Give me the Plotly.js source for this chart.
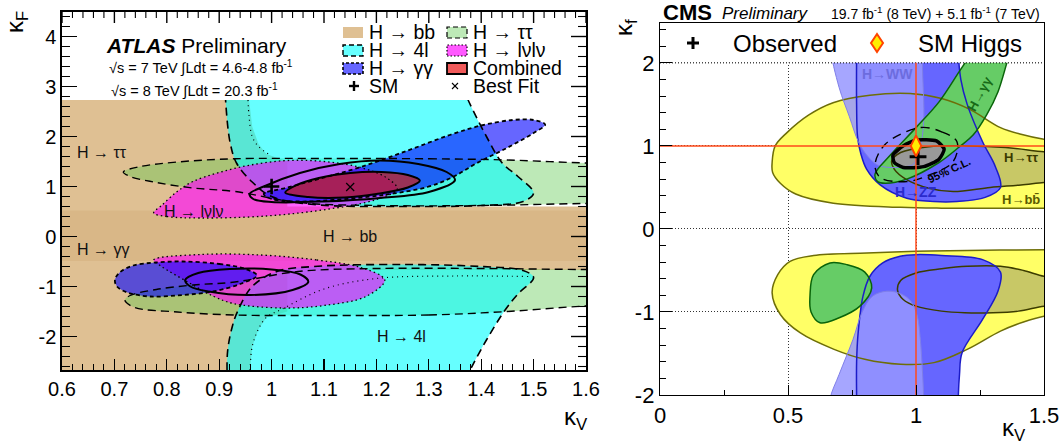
<!DOCTYPE html>
<html><head><meta charset="utf-8">
<script src="https://cdn.plot.ly/plotly-3.0.1.min.js"></script>
<style>html,body{margin:0;padding:0;background:#fff}#chart{width:1063px;height:445px}</style>
</head><body><div id="chart"></div>
<script>
// ================= ATLAS panel: contour regions (kappa_V, kappa_F) =================
const atlasBbOuterX = [0.5, 0.955, 0.957, 0.963, 0.975, 0.99, 1.03, 1.03, 1.7, 1.7, 1.03, 1.03, 0.99, 0.975, 0.963, 0.959, 0.959, 0.5];
const atlasBbOuterY = [3.0, 3.0, 2.73, 2.2, 1.85, 1.65, 1.5, 0.6, 0.6, -0.67, -0.67, -1.5, -1.62, -1.85, -2.2, -2.67, -3.0, -3.0];
const atlasBbInnerX = [0.5, 1.7, 1.7, 0.5];
const atlasBbInnerY = [0.52, 0.52, -0.49, -0.49];

const atlasTauUpX = [1.1, 1.3, 1.45, 1.6, 1.75, 1.75, 1.6, 1.4, 1.2, 1.05, 0.93, 0.85, 0.78, 0.73, 0.717, 0.75, 0.82, 0.93];
const atlasTauUpY = [1.56, 1.555, 1.53, 1.47, 1.44, 0.66, 0.66, 0.62, 0.62, 0.68, 0.9, 0.97, 1.08, 1.2, 1.29, 1.40, 1.49, 1.555];
const atlasTauLoX = [1.1, 1.3, 1.45, 1.6, 1.75, 1.75, 1.6, 1.4, 1.2, 1.05, 0.93, 0.85, 0.78, 0.73, 0.72, 0.736, 0.82, 0.93];
const atlasTauLoY = [-1.58, -1.57, -1.5, -1.39, -1.35, -0.66, -0.66, -0.64, -0.64, -0.7, -0.91, -0.97, -1.06, -1.18, -1.27, -1.41, -1.51, -1.57];

const atlas4lUpX = [1.14, 0.91, 0.911, 0.913, 0.921, 0.933, 0.963, 1.0, 1.08, 1.25, 1.4, 1.48, 1.5, 1.47, 1.44, 1.41, 1.375, 1.36, 1.355];
const atlas4lUpY = [3.6, 3.6, 3.1, 2.6, 1.87, 1.47, 1.09, 0.8, 0.64, 0.6, 0.62, 0.7, 0.87, 1.2, 1.47, 2.0, 2.73, 3.1, 3.6];
const atlas4lLoX = [1.14, 1.355, 1.36, 1.379, 1.41, 1.447, 1.47, 1.5, 1.48, 1.4, 1.25, 1.08, 1.01, 0.963, 0.935, 0.925, 0.916, 0.915, 0.912];
const atlas4lLoY = [-3.6, -3.6, -3.1, -2.67, -2.07, -1.45, -1.15, -0.82, -0.68, -0.6, -0.56, -0.6, -0.7, -1.0, -1.5, -1.8, -2.3, -3.1, -3.6];
const atlas4lInUpX = [0.955, 0.957, 0.963, 0.975, 0.997];
const atlas4lInUpY = [2.73, 2.4, 2.0, 1.8, 1.63];
const atlas4lInLoX = [0.959, 0.963, 0.975, 0.99, 1.02, 1.1, 1.2, 1.35, 1.49];
const atlas4lInLoY = [-2.67, -2.2, -1.85, -1.62, -1.45, -1.05, -0.84, -0.79, -0.8];

const atlasLvUpX = [0.864, 0.8, 0.775, 0.79, 0.82, 0.85, 0.9, 0.96, 1.03, 1.1, 1.17, 1.22, 1.24, 1.2, 1.11, 0.99];
const atlasLvUpY = [0.37, 0.4, 0.47, 0.62, 0.9, 1.1, 1.28, 1.43, 1.52, 1.5, 1.38, 1.17, 0.95, 0.74, 0.55, 0.41];
const atlasLvLoX = [0.98, 1.086, 1.17, 1.216, 1.18, 1.1, 1.02, 0.927, 0.89, 0.84, 0.79, 0.775, 0.864];
const atlasLvLoY = [-0.37, -0.47, -0.62, -0.87, -1.2, -1.38, -1.43, -1.34, -1.2, -0.91, -0.6, -0.47, -0.36];

const atlasGgUpX = [1.297, 1.213, 1.117, 1.054, 1.0, 0.985, 1.03, 1.09, 1.17, 1.26, 1.34, 1.40, 1.46, 1.50, 1.522, 1.50, 1.449, 1.392, 1.346];
const atlasGgUpY = [0.99, 0.83, 0.73, 0.70, 0.75, 0.85, 0.98, 1.15, 1.39, 1.72, 2.03, 2.22, 2.33, 2.33, 2.24, 2.07, 1.77, 1.47, 1.19];
const atlasGgLoX = [0.831, 0.9, 0.95, 0.972, 0.94, 0.888, 0.83, 0.768, 0.725, 0.705, 0.701, 0.71, 0.736, 0.78];
const atlasGgLoY = [-0.5, -0.55, -0.65, -0.78, -0.95, -1.1, -1.17, -1.2, -1.12, -1.0, -0.87, -0.72, -0.58, -0.52];

const atlasCombInX = [1.15, 1.21, 1.26, 1.283, 1.26, 1.2, 1.14, 1.07, 1.026, 1.048, 1.09];
const atlasCombInY = [1.27, 1.29, 1.23, 1.12, 0.98, 0.85, 0.78, 0.79, 0.88, 1.03, 1.17];
const atlasCombOutX = [1.207, 1.28, 1.334, 1.35, 1.3, 1.207, 1.1, 1.0, 0.965, 0.958, 0.985, 1.054, 1.13];
const atlasCombOutY = [1.52, 1.45, 1.29, 1.13, 0.89, 0.77, 0.7, 0.69, 0.75, 0.85, 1.0, 1.27, 1.45];
const atlasCombLoX = [0.92, 1.0, 1.055, 1.07, 1.04, 0.96, 0.88, 0.845, 0.835, 0.86];
const atlasCombLoY = [-0.65, -0.66, -0.76, -0.91, -1.07, -1.17, -1.1, -1.0, -0.87, -0.73];

const atlasSM = {x: [1.0], y: [1.0]};
const atlasBest = {x: [1.15], y: [0.99]};

const atlasXTickVals = [0.6, 0.7, 0.8, 0.9, 1.0, 1.1, 1.2, 1.3, 1.4, 1.5, 1.6];
const atlasXTickText = ['0.6', '0.7', '0.8', '0.9', '1', '1.1', '1.2', '1.3', '1.4', '1.5', '1.6'];
const atlasYTickVals = [-2, -1, 0, 1, 2, 3, 4];
const atlasYTickText = ['-2', '-1', '0', '1', '2', '3', '4'];

// ================= CMS panel: contour regions (kappa_V, kappa_f) =================
const cmsBbUpX = [0.977, 1.1, 1.21, 1.33, 1.41, 1.5, 1.56, 1.56, 1.5, 1.3, 1.1, 0.94, 0.677, 0.53, 0.47, 0.44, 0.438, 0.45, 0.496, 0.58, 0.676, 0.82];
const cmsBbUpY = [1.63, 1.57, 1.44, 1.22, 1.14, 1.08, 1.06, 0.25, 0.25, 0.25, 0.25, 0.26, 0.31, 0.42, 0.55, 0.68, 0.8, 1.0, 1.16, 1.37, 1.52, 1.61];
const cmsBbLoX = [0.808, 1.0, 1.2, 1.5, 1.56, 1.56, 1.5, 1.42, 1.33, 1.2, 1.07, 0.94, 0.8, 0.68, 0.547, 0.47, 0.438, 0.46, 0.508, 0.6];
const cmsBbLoY = [-0.29, -0.27, -0.26, -0.25, -0.25, -1.03, -1.05, -1.12, -1.23, -1.45, -1.61, -1.63, -1.57, -1.45, -1.25, -1.03, -0.77, -0.55, -0.39, -0.32];

const cmsTauUpX = [1.05, 1.2, 1.35, 1.5, 1.56, 1.56, 1.5, 1.41, 1.29, 1.145, 1.05, 0.96, 0.915, 0.905, 0.94];
const cmsTauUpY = [0.99, 1.0, 0.98, 0.93, 0.92, 0.57, 0.56, 0.53, 0.5, 0.45, 0.49, 0.6, 0.72, 0.82, 0.92];
const cmsTauLoX = [1.2, 1.33, 1.42, 1.5, 1.56, 1.56, 1.5, 1.4, 1.3, 1.19, 1.1, 1.0, 0.95, 0.928, 0.94, 1.0, 1.1];
const cmsTauLoY = [-0.45, -0.45, -0.5, -0.57, -0.58, -0.92, -0.93, -0.99, -1.01, -1.01, -0.99, -0.93, -0.85, -0.74, -0.62, -0.53, -0.48];

const cmsZzUpX = [0.768, 0.768, 0.768, 0.772, 0.785, 0.807, 0.86, 0.964, 1.07, 1.16, 1.27, 1.33, 1.31, 1.26, 1.2, 1.175, 1.163, 1.16];
const cmsZzUpY = [2.45, 2.2, 1.5, 1.1, 0.9, 0.72, 0.53, 0.37, 0.33, 0.33, 0.38, 0.5, 0.75, 1.05, 1.5, 1.8, 2.2, 2.45];
const cmsZzLoX = [1.0, 1.1, 1.26, 1.33, 1.32, 1.26, 1.18, 1.17, 1.165, 1.165, 0.768, 0.768, 0.768, 0.774, 0.793, 0.82, 0.87, 0.938];
const cmsZzLoY = [-0.31, -0.32, -0.37, -0.52, -0.75, -1.09, -1.49, -1.75, -2.05, -2.3, -2.3, -2.05, -1.6, -1.25, -0.81, -0.57, -0.41, -0.33];

const cmsWwUpX = [0.664, 0.664, 0.70, 0.74, 0.775, 0.81, 0.85, 0.9, 0.96, 0.99, 1.016, 1.03, 1.025, 1.025];
const cmsWwUpY = [2.45, 2.2, 1.7, 1.35, 1.05, 0.88, 0.77, 0.74, 0.75, 0.78, 0.98, 1.29, 2.0, 2.45];
const cmsWwLoX = [0.886, 0.94, 0.98, 1.005, 1.016, 1.025, 1.03, 1.03, 0.664, 0.664, 0.7, 0.754, 0.79, 0.83];
const cmsWwLoY = [-0.75, -0.78, -0.87, -1.05, -1.3, -1.7, -2.05, -2.3, -2.3, -2.05, -1.75, -1.33, -1.0, -0.81];

const cmsGgUpX = [1.29, 1.235, 1.17, 1.09, 1.0, 0.9, 0.84, 0.85, 0.88, 0.964, 1.09, 1.17, 1.223, 1.277, 1.32, 1.355, 1.375, 1.40];
const cmsGgUpY = [2.45, 2.2, 1.9, 1.53, 1.22, 0.89, 0.66, 0.57, 0.55, 0.6, 0.8, 0.99, 1.13, 1.38, 1.65, 2.0, 2.2, 2.45];
const cmsGgLoX = [0.664, 0.73, 0.8, 0.827, 0.781, 0.7, 0.625, 0.59, 0.586, 0.6];
const cmsGgLoY = [-0.41, -0.43, -0.52, -0.71, -0.93, -1.07, -1.13, -1.0, -0.8, -0.55];

const cmsComb68X = [1.0, 1.08, 1.11, 1.09, 1.03, 0.95, 0.915, 0.91, 0.95];
const cmsComb68Y = [1.07, 1.06, 0.96, 0.84, 0.75, 0.74, 0.8, 0.89, 1.0];
const cmsComb95X = [1.016, 1.1, 1.16, 1.145, 1.06, 0.964, 0.86, 0.84, 0.88];
const cmsComb95Y = [1.22, 1.17, 1.05, 0.81, 0.66, 0.57, 0.62, 0.77, 1.02];

const cmsObserved = {x: [1.008], y: [0.87]};
const cmsSM = {x: [1.0], y: [1.0]};

const cmsXTickVals = [0, 0.5, 1, 1.5];
const cmsXTickText = ['0', '0.5', '1', '1.5'];
const cmsYTickVals = [-2, -1, 0, 1, 2];
const cmsYTickText = ['-2', '-1', '0', '1', '2'];

// ================= helpers =================
const W = 1063, H = 445;
const PX = x => x / W, PY = y => 1 - y / H;
const FONT = 'Liberation Sans, Arial, Helvetica, sans-serif';
const A1 = ['x', 'y'], A2 = ['x2', 'y2'];
const closeArr = a => a.concat([a[0]]);
const ATLAS_XR = [0.6, 1.6], ATLAS_YR = [-2.67, 4.49];
const ATLAS_PX = [62, 586], ATLAS_PY = [12, 370];

function fillT(ax, xs, ys, color, shape, smoothing) {
  return {type: 'scatter', mode: 'lines', xaxis: ax[0], yaxis: ax[1], x: closeArr(xs), y: closeArr(ys),
    fill: 'toself', fillcolor: color, hoverinfo: 'skip', showlegend: false,
    line: {width: 0, color: 'rgba(0,0,0,0)', shape: shape || 'spline', smoothing: smoothing == null ? 1 : smoothing, simplify: false}};
}
function lineT(ax, xs, ys, color, width, dash, closed, shape, smoothing) {
  return {type: 'scatter', mode: 'lines', xaxis: ax[0], yaxis: ax[1],
    x: closed === false ? xs : closeArr(xs), y: closed === false ? ys : closeArr(ys),
    hoverinfo: 'skip', showlegend: false,
    line: {width: width, color: color, dash: dash || 'solid', shape: shape || 'spline', smoothing: smoothing == null ? 1 : smoothing, simplify: false}};
}

// colours
const C_BB_OUT = 'rgb(223,192,147)', C_BB_IN = 'rgb(217,183,135)';
const C_TAU = 'rgba(90,200,75,0.4)';
const C_4L = 'rgba(0,255,255,0.6)';
const C_LV = 'rgba(255,0,255,0.62)';
const C_GG = 'rgba(0,0,255,0.6)';
const C_COMB = 'rgba(205,30,20,0.7)';
const LONG = '8px,5px', SHORT = '4px,3px', DOTS = '1.5px,3px';

const traces = [];
// --- ATLAS fills
traces.push(fillT(A1, atlasBbOuterX, atlasBbOuterY, C_BB_OUT, 'linear'));
traces.push(fillT(A1, atlasBbInnerX, atlasBbInnerY, C_BB_IN, 'linear'));
traces.push(fillT(A1, atlasTauUpX, atlasTauUpY, C_TAU));
traces.push(fillT(A1, atlasTauLoX, atlasTauLoY, C_TAU));
traces.push(fillT(A1, atlas4lUpX, atlas4lUpY, C_4L));
traces.push(fillT(A1, atlas4lLoX, atlas4lLoY, C_4L));
traces.push(fillT(A1, atlasLvUpX, atlasLvUpY, C_LV));
traces.push(fillT(A1, atlasLvLoX, atlasLvLoY, C_LV));
traces.push(fillT(A1, atlasGgUpX, atlasGgUpY, C_GG));
traces.push(fillT(A1, atlasGgLoX, atlasGgLoY, C_GG));
traces.push(fillT(A1, atlasCombInX, atlasCombInY, C_COMB));
// --- ATLAS contour lines
traces.push(lineT(A1, atlasTauUpX, atlasTauUpY, '#000', 1.4, LONG));
traces.push(lineT(A1, atlasTauLoX, atlasTauLoY, '#000', 1.4, LONG));
traces.push(lineT(A1, atlas4lUpX, atlas4lUpY, '#000', 1.6, LONG));
traces.push(lineT(A1, atlas4lLoX, atlas4lLoY, '#000', 1.6, LONG));
traces.push(lineT(A1, atlas4lInUpX, atlas4lInUpY, '#000', 1.2, '1px,4px', false));
traces.push(lineT(A1, atlas4lInLoX, atlas4lInLoY, '#000', 1.2, '1px,4px', false));
traces.push(lineT(A1, atlasLvUpX, atlasLvUpY, '#000', 1.3, DOTS));
traces.push(lineT(A1, atlasLvLoX, atlasLvLoY, '#000', 1.3, DOTS));
traces.push(lineT(A1, atlasGgUpX, atlasGgUpY, '#000', 1.8, SHORT));
traces.push(lineT(A1, atlasGgLoX, atlasGgLoY, '#000', 1.8, SHORT));
traces.push(lineT(A1, atlasCombInX, atlasCombInY, '#000', 2));
traces.push(lineT(A1, atlasCombOutX, atlasCombOutY, '#000', 2));
traces.push(lineT(A1, atlasCombLoX, atlasCombLoY, '#000', 2));
// white cover above the histogram range (kappa_F > 2.73)
traces.push(fillT(A1, [0.55, 1.65, 1.65, 0.55], [2.73, 2.73, 4.8, 4.8], '#ffffff', 'linear'));
// markers
traces.push({type: 'scatter', mode: 'markers', xaxis: 'x', yaxis: 'y', x: atlasSM.x, y: atlasSM.y, hoverinfo: 'skip', showlegend: false,
  marker: {symbol: 'cross-thin', size: 11, line: {width: 2.6, color: '#000'}}});
traces.push({type: 'scatter', mode: 'markers', xaxis: 'x', yaxis: 'y', x: atlasBest.x, y: atlasBest.y, hoverinfo: 'skip', showlegend: false,
  marker: {symbol: 'x-thin', size: 8, line: {width: 1.2, color: '#000'}}});

// --- CMS fills
const Y_FILL = '#ffff66', TAU_FILL = '#c8c866', ZZ_FILL = '#6666ff', WW_FILL = 'rgba(150,150,255,0.85)', GG_FILL = '#66cc66';
traces.push(fillT(A2, cmsBbUpX, cmsBbUpY, Y_FILL));
traces.push(fillT(A2, cmsBbLoX, cmsBbLoY, Y_FILL));
traces.push(fillT(A2, cmsTauUpX, cmsTauUpY, TAU_FILL));
traces.push(fillT(A2, cmsTauLoX, cmsTauLoY, TAU_FILL));
traces.push(fillT(A2, cmsZzUpX, cmsZzUpY, ZZ_FILL));
traces.push(fillT(A2, cmsZzLoX, cmsZzLoY, ZZ_FILL));
traces.push(fillT(A2, cmsWwUpX, cmsWwUpY, WW_FILL));
traces.push(fillT(A2, cmsWwLoX, cmsWwLoY, WW_FILL));
traces.push(fillT(A2, cmsGgUpX, cmsGgUpY, GG_FILL));
traces.push(fillT(A2, cmsGgLoX, cmsGgLoY, GG_FILL));
traces.push(fillT(A2, cmsComb68X, cmsComb68Y, '#999999', 'spline', 0.6));
// --- CMS lines
traces.push(lineT(A2, cmsBbUpX, cmsBbUpY, '#6e6e08', 1.5));
traces.push(lineT(A2, cmsBbLoX, cmsBbLoY, '#6e6e08', 1.5));
traces.push(lineT(A2, cmsTauUpX, cmsTauUpY, '#3c3c00', 1.5));
traces.push(lineT(A2, cmsTauLoX, cmsTauLoY, '#3c3c00', 1.5));
traces.push(lineT(A2, cmsZzUpX, cmsZzUpY, '#1c1cc8', 1.5));
traces.push(lineT(A2, cmsZzLoX, cmsZzLoY, '#1c1cc8', 1.5));
traces.push(lineT(A2, cmsWwUpX, cmsWwUpY, '#7f7fe8', 1));
traces.push(lineT(A2, cmsWwLoX, cmsWwLoY, '#7f7fe8', 1));
traces.push(lineT(A2, cmsGgUpX, cmsGgUpY, '#0a640a', 1.5));
traces.push(lineT(A2, cmsGgLoX, cmsGgLoY, '#0a640a', 1.5));
traces.push(lineT(A2, cmsComb95X, cmsComb95Y, '#000', 1.4, '9px,6px'));
traces.push(lineT(A2, cmsComb68X, cmsComb68Y, '#000', 3.5, 'solid', true, 'spline', 0.6));
// white cover above kappa_f = 2
traces.push(fillT(A2, [-0.1, 1.6, 1.6, -0.1], [2.0, 2.0, 2.7, 2.7], '#ffffff', 'linear'));
traces.push(lineT(A2, [0, 1.5], [2, 2], '#000', 1, '1px,2px', false, 'linear'));
// SM reference lines
traces.push(lineT(A2, [0, 1.5], [1, 1], '#ff4a1a', 1.5, 'solid', false, 'linear'));
traces.push(lineT(A2, [1, 1], [-2, 2], '#ff4a1a', 1.5, 'solid', false, 'linear'));
traces.push({type: 'scatter', mode: 'markers', xaxis: 'x2', yaxis: 'y2', x: cmsObserved.x, y: cmsObserved.y, hoverinfo: 'skip', showlegend: false,
  marker: {symbol: 'cross-thin', size: 12, line: {width: 3, color: '#000'}}});
traces.push({type: 'scatter', mode: 'markers', xaxis: 'x2', yaxis: 'y2', x: cmsSM.x, y: cmsSM.y, hoverinfo: 'skip', showlegend: false,
  marker: {symbol: 'diamond-tall', size: 15, color: '#ffee00', line: {width: 2, color: '#ff4400'}}});

// ================= annotations & legend =================
const ann = [];
const txt = (x, y, text, size, opts) => Object.assign({xref: 'paper', yref: 'paper', x: PX(x), y: PY(y), text: text, showarrow: false,
  xanchor: 'left', yanchor: 'middle', font: {family: FONT, size: size, color: '#000'}}, opts || {});
const dtxt = (ax, x, y, text, size, color, opts) => Object.assign({xref: ax[0], yref: ax[1], x: x, y: y, text: text, showarrow: false,
  xanchor: 'center', yanchor: 'middle', font: {family: FONT, size: size, color: color}}, opts || {});

// ATLAS header
ann.push(txt(104, 45, '<b><i>ATLAS</i></b> Preliminary', 21));
ann.push(txt(107, 68, '√s = 7 TeV ∫Ldt = 4.6-4.8 fb<sup>-1</sup>', 14.5));
ann.push(txt(109, 90, '√s = 8 TeV ∫Ldt = 20.3 fb<sup>-1</sup>', 14.5));
// ATLAS axis titles
ann.push(txt(17, 22, 'κ<sub>F</sub>', 24, {xanchor: 'center', textangle: -90}));
ann.push(txt(576, 418, 'κ<sub>V</sub>', 24, {xanchor: 'center'}));
// ATLAS region labels
ann.push(dtxt(A1, 0.676, 1.69, 'H → ττ', 16, '#111'));
ann.push(dtxt(A1, 0.852, 0.51, 'H → lνlν', 16, '#111'));
ann.push(dtxt(A1, 0.678, -0.25, 'H → γγ', 16, '#111'));
ann.push(dtxt(A1, 1.15, 0.0, 'H → bb', 16, '#111'));
ann.push(dtxt(A1, 1.247, -1.99, 'H → 4l', 16, '#111'));
// ATLAS legend texts
const legRows = [32, 50, 68, 86];
ann.push(txt(367, legRows[0], 'H → bb', 19.5));
ann.push(txt(471, legRows[0], 'H → ττ', 19.5));
ann.push(txt(367, legRows[1], 'H → 4l', 19.5));
ann.push(txt(471, legRows[1], 'H → lνlν', 19.5));
ann.push(txt(367, legRows[2], 'H → γγ', 19.5));
ann.push(txt(471, legRows[2], 'Combined', 19.5));
ann.push(txt(367, legRows[3], 'SM', 19.5));
ann.push(txt(471, legRows[3], 'Best Fit', 19.5));

// CMS header and legend
ann.push(txt(661, 12, '<b>CMS</b>', 22));
ann.push(txt(720, 13, '<i>Preliminary</i>', 17));
ann.push(txt(1042, 13, '19.7 fb<sup>-1</sup> (8 TeV) + 5.1 fb<sup>-1</sup> (7 TeV)', 14, {xanchor: 'right'}));
ann.push(txt(731, 43, 'Observed', 24));
ann.push(txt(916, 43, 'SM Higgs', 24));
ann.push(txt(626, 28, 'κ<sub>f</sub>', 24, {xanchor: 'center', textangle: -90}));
ann.push(txt(1014, 429, 'κ<sub>V</sub>', 24, {xanchor: 'center'}));
// CMS region labels
ann.push(dtxt(A2, 0.89, 1.86, '<b>H→WW</b>', 14, '#6c6cde'));
ann.push(dtxt(A2, 1.25, 1.63, '<b>H→γγ</b>', 13, '#176a17', {textangle: -62}));
ann.push(dtxt(A2, 1.0, 0.44, '<b>H→ZZ</b>', 14, '#2a2acc'));
ann.push(dtxt(A2, 1.41, 0.86, '<b>H→ττ</b>', 13, '#3a3a00'));
ann.push(dtxt(A2, 1.41, 0.35, '<b>H→bb\u0304</b>', 13, '#5a5a00'));
ann.push(dtxt(A2, 1.13, 0.715, '<b>95% C.L.</b>', 11, '#000', {textangle: -25}));

// legend swatches (paper coords)
const shapes = [];
function rectPx(x0, y0, x1, y1, fill, lineColor, lineW, dash) {
  shapes.push({type: 'rect', xref: 'paper', yref: 'paper', x0: PX(x0), x1: PX(x1), y0: PY(y1), y1: PY(y0),
    fillcolor: fill, line: {color: lineColor || 'rgba(0,0,0,0)', width: lineW || 0, dash: dash || 'solid'}, layer: 'above'});
}
function segPx(x0, y0, x1, y1, color, w) {
  shapes.push({type: 'line', xref: 'paper', yref: 'paper', x0: PX(x0), x1: PX(x1), y0: PY(y0), y1: PY(y1), line: {color: color, width: w}, layer: 'above'});
}
rectPx(343, 27, 363, 38, C_BB_OUT);
rectPx(447, 27, 467, 38, 'rgb(189,233,183)', '#000', 1.2, '5px,3px');
rectPx(343, 45, 363, 56, '#66ffff', '#000', 1.4, '5px,3px');
rectPx(447, 45, 467, 56, 'rgb(255,89,255)', '#000', 1.2, '1.5px,2px');
rectPx(343, 63, 363, 74, '#6666ff', '#000', 1.6, '3px,2px');
rectPx(447, 63, 467, 74, '#f05a5a', '#000', 1.8);
segPx(349, 86, 359, 86, '#000', 2.4); segPx(354, 81, 354, 91, '#000', 2.4);
segPx(452, 83, 458, 89, '#000', 1.1); segPx(452, 89, 458, 83, '#000', 1.1);
// CMS legend markers
segPx(687, 43, 699, 43, '#000', 3); segPx(693, 37, 693, 49, '#000', 3);
shapes.push({type: 'path', xref: 'paper', yref: 'paper', layer: 'above',
  path: 'M ' + PX(877) + ' ' + PY(34) + ' L ' + PX(883) + ' ' + PY(43) + ' L ' + PX(877) + ' ' + PY(52) + ' L ' + PX(871) + ' ' + PY(43) + ' Z',
  fillcolor: '#ffee00', line: {color: '#ff4400', width: 2}});

// mirrored tick marks on the top and right edges of the ATLAS frame (paper-coordinate line shapes)
for (let i = 0; i <= 50; i++) {
  const px = ATLAS_PX[0] + (ATLAS_PX[1] - ATLAS_PX[0]) * i / 50;
  const major = i % 5 === 0;
  segPx(px, ATLAS_PY[0], px, ATLAS_PY[0] + (major ? 11 : 6), '#000', major ? 1.4 : 1.1);
}
const yPerPx = (ATLAS_PY[1] - ATLAS_PY[0]) / (ATLAS_YR[1] - ATLAS_YR[0]);
for (let i = -13; i <= 22; i++) {
  const py = ATLAS_PY[1] - (0.2 * i - ATLAS_YR[0]) * yPerPx;
  const major = i % 5 === 0;
  segPx(ATLAS_PX[1], py, ATLAS_PX[1] - (major ? 15 : 8), py, '#000', major ? 1.4 : 1.1);
}

const tickFontA = {family: FONT, size: 20, color: '#000'};
const tickFontC = {family: FONT, size: 22, color: '#000'};
const minorXA = {tickmode: 'linear', tick0: 0.6, dtick: 0.02, ticks: 'inside', ticklen: 6, tickwidth: 1, tickcolor: '#000'};
const minorYA = {tickmode: 'linear', tick0: 0, dtick: 0.2, ticks: 'inside', ticklen: 8, tickwidth: 1, tickcolor: '#000'};
const layout = {
  width: W, height: H, margin: {l: 0, r: 0, t: 0, b: 0}, paper_bgcolor: '#fff', plot_bgcolor: 'rgba(0,0,0,0)',
  showlegend: false, font: {family: FONT},
  xaxis: {domain: [PX(ATLAS_PX[0]), PX(ATLAS_PX[1])], range: ATLAS_XR.slice(), anchor: 'y', tickmode: 'array', tickvals: atlasXTickVals, ticktext: atlasXTickText,
    ticks: 'inside', ticklen: 11, tickwidth: 1.2, tickcolor: '#000', showline: true, linecolor: '#000', linewidth: 1.6, mirror: true,
    showgrid: false, zeroline: false, tickfont: tickFontA, minor: minorXA},
  yaxis: {domain: [PY(ATLAS_PY[1]), PY(ATLAS_PY[0])], range: ATLAS_YR.slice(), anchor: 'x', tickmode: 'array', tickvals: atlasYTickVals, ticktext: atlasYTickText,
    ticks: 'inside', ticklen: 15, tickwidth: 1.2, tickcolor: '#000', showline: true, linecolor: '#000', linewidth: 1.6, mirror: true,
    showgrid: false, zeroline: false, tickfont: tickFontA, minor: minorYA},
  xaxis2: {domain: [PX(660), PX(1044)], range: [0, 1.5], anchor: 'y2', tickmode: 'array', tickvals: cmsXTickVals, ticktext: cmsXTickText,
    ticks: 'inside', ticklen: 10, tickwidth: 1, tickcolor: '#000', showline: true, linecolor: '#000', linewidth: 1.2, mirror: true,
    showgrid: true, gridcolor: '#000', gridwidth: 0.8, griddash: '1px,2px', zeroline: false, tickfont: tickFontC,
    minor: {tickmode: 'linear', tick0: 0, dtick: 0.25, ticks: 'inside', ticklen: 5, tickwidth: 1, tickcolor: '#000', showgrid: false}},
  yaxis2: {domain: [PY(395), PY(23)], range: [-2, 2.48], anchor: 'x2', tickmode: 'array', tickvals: cmsYTickVals, ticktext: cmsYTickText,
    ticks: 'inside', ticklen: 12, tickwidth: 1, tickcolor: '#000', showline: true, linecolor: '#000', linewidth: 1.2, mirror: true,
    showgrid: true, gridcolor: '#000', gridwidth: 0.8, griddash: '1px,2px', zeroline: false, tickfont: tickFontC,
    minor: {tickmode: 'linear', tick0: 0, dtick: 0.2, ticks: 'inside', ticklen: 6, tickwidth: 1, tickcolor: '#000', showgrid: false}},
  annotations: ann, shapes: shapes
};
Plotly.newPlot('chart', traces, layout, {staticPlot: true, displayModeBar: false});
</script>
</body></html>
